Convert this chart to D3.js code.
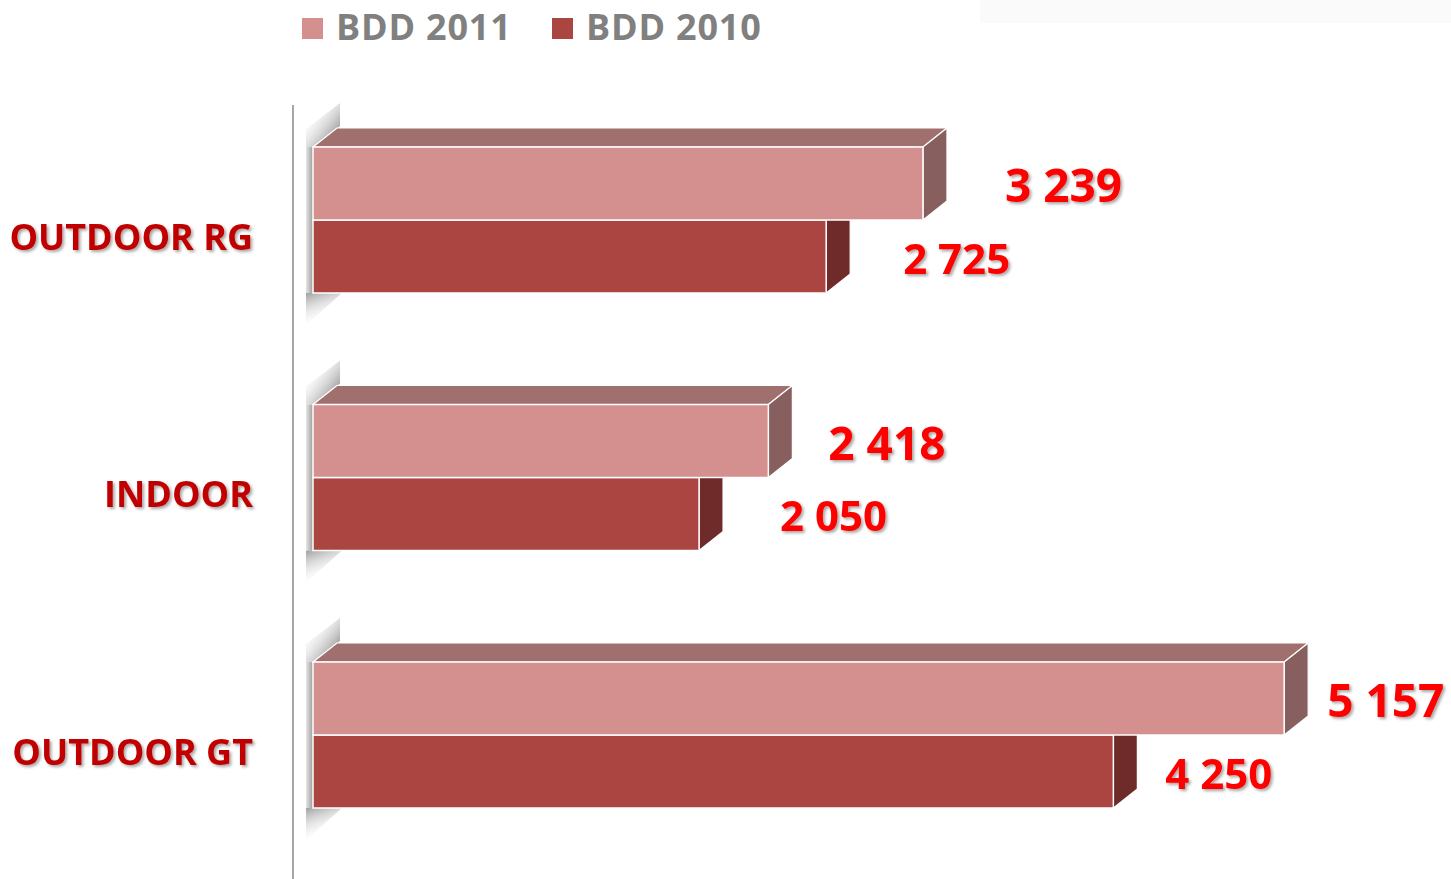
<!DOCTYPE html>
<html>
<head>
<meta charset="utf-8">
<script src="https://cdn.jsdelivr.net/npm/d3@7"></script>
<style>
  html, body { margin: 0; padding: 0; background: #fff; }
  svg { display: block; font-family: "Open Sans", "Liberation Sans", sans-serif; }
</style>
</head>
<body>
<div id="chart"></div>
<script>
const categories = ["OUTDOOR RG", "INDOOR", "OUTDOOR GT"];
const seriesNames = ["BDD 2011", "BDD 2010"];
const bdd2011 = [3239, 2418, 5157];
const bdd2010 = [2725, 2050, 4250];

const WIDTH = 1451;
const HEIGHT = 879;
const DEPTH_X = 24;
const DEPTH_Y = -19;
const AXIS_X = 293;
// hand placed gaps between bar end and its value label, as in the original slide
const labelGap = {
  "BDD 2011": [58, 36, 19],
  "BDD 2010": [53, 57, 28]
};
const labelSize = { "BDD 2011": 46, "BDD 2010": 42 };

const colors = {
  "BDD 2011": { front: "#D4908F", top: "#A0706F", side: "#875F5E" },
  "BDD 2010": { front: "#AA4542", top: "#8A3B38", side: "#6E2B2A" }
};

const valuesBySeries = { "BDD 2011": bdd2011, "BDD 2010": bdd2010 };

const fmt = d3.formatLocale({ decimal: ",", thousands: " ", grouping: [3], currency: ["", ""] }).format(",d");

const svg = d3.select("#chart").append("svg")
  .attr("width", WIDTH)
  .attr("height", HEIGHT);

const defs = svg.append("defs");
const shadow = defs.append("filter").attr("id", "txtShadow")
  .attr("x", "-10%").attr("y", "-20%").attr("width", "130%").attr("height", "150%");
shadow.append("feDropShadow")
  .attr("dx", 2).attr("dy", 2).attr("stdDeviation", 1.5)
  .attr("flood-color", "#000").attr("flood-opacity", 0.35);

const addGradient = (id, x1, y1, x2, y2, from, to) => {
  const gr = defs.append("linearGradient").attr("id", id)
    .attr("x1", x1).attr("y1", y1).attr("x2", x2).attr("y2", y2);
  gr.append("stop").attr("offset", "0%").attr("stop-color", from[0]).attr("stop-opacity", from[1]);
  gr.append("stop").attr("offset", "100%").attr("stop-color", to[0]).attr("stop-opacity", to[1]);
};
addGradient("wallTop", 1, 0.8, 0.2, 0, ["#808080", 1], ["#ffffff", 0]);
addGradient("wallLeft", 1, 0, 0, 0, ["#9c9c9c", 1], ["#e6e6e6", 1]);
addGradient("wallBottom", 0, 0, 0.4, 1, ["#a0a0a0", 1], ["#ffffff", 0]);

const x = d3.scaleLinear().domain([0, 6000]).range([313, 313 + 6000 * 0.18832]);
const yGroup = d3.scalePoint().domain(categories).range([220, 735]);
const ySeries = d3.scaleBand().domain(seriesNames).range([-73, 73]);

// faint box at top right (remains of a hidden title)
svg.append("rect")
  .attr("x", 980).attr("y", 0).attr("width", WIDTH - 980).attr("height", 23)
  .attr("fill", "#FAFAFA");

// vertical axis line
svg.append("line")
  .attr("x1", AXIS_X).attr("x2", AXIS_X)
  .attr("y1", 105).attr("y2", HEIGHT)
  .attr("stroke", "#A6A6A6").attr("stroke-width", 2);

// legend
const legend = svg.append("g").attr("class", "legend");
const legendX = [302, 552];
seriesNames.forEach((s, i) => {
  legend.append("rect")
    .attr("x", legendX[i]).attr("y", 18)
    .attr("width", 21).attr("height", 21)
    .attr("fill", colors[s].front);
  legend.append("text")
    .attr("x", legendX[i] + 34).attr("y", 40)
    .attr("font-size", "36px").attr("font-weight", 700)
    .attr("letter-spacing", "0.8px")
    .attr("fill", "#808080")
    .text(s);
});

const groups = svg.append("g").attr("class", "groups")
  .selectAll("g")
  .data(categories)
  .join("g");

// wall shading next to each pair of bars
groups.each(function (cat) {
  const g = d3.select(this);
  const top = yGroup(cat) + ySeries.range()[0];
  const bottom = yGroup(cat) + ySeries.range()[1];
  g.append("path")
    .attr("d", `M306,${top} L313,${top} L340,${top - 21} L340,${top - 44} L306,${top - 18} Z`)
    .attr("fill", "url(#wallTop)");
  g.append("rect")
    .attr("x", 306).attr("y", top)
    .attr("width", 7).attr("height", bottom - top)
    .attr("fill", "url(#wallLeft)");
  g.append("path")
    .attr("d", `M306,${bottom} L342,${bottom} L306,${bottom + 32} Z`)
    .attr("fill", "url(#wallBottom)");
});

// bars, 2010 first so the 2011 bar covers its hidden top face
const barOrder = ["BDD 2010", "BDD 2011"];
groups.each(function (cat, ci) {
  const g = d3.select(this);
  barOrder.forEach((s) => {
    const v = valuesBySeries[s][ci];
    const x0 = x(0);
    const x1 = x(v);
    const y0 = yGroup(cat) + ySeries(s);
    const h = ySeries.bandwidth();
    const c = colors[s];
    const bar = g.append("g").attr("class", "bar");
    bar.append("path")
      .attr("d", `M${x0},${y0} L${x0 + DEPTH_X},${y0 + DEPTH_Y} L${x1 + DEPTH_X},${y0 + DEPTH_Y} L${x1},${y0} Z`)
      .attr("fill", c.top).attr("stroke", "#fff").attr("stroke-width", 1.2).attr("stroke-linejoin", "round");
    bar.append("path")
      .attr("d", `M${x1},${y0} L${x1 + DEPTH_X},${y0 + DEPTH_Y} L${x1 + DEPTH_X},${y0 + h + DEPTH_Y} L${x1},${y0 + h} Z`)
      .attr("fill", c.side).attr("stroke", "#fff").attr("stroke-width", 1.2).attr("stroke-linejoin", "round");
    bar.append("rect")
      .attr("x", x0).attr("y", y0)
      .attr("width", x1 - x0).attr("height", h)
      .attr("fill", c.front).attr("stroke", "#fff").attr("stroke-width", 1.5);
  });
});

// value labels
groups.each(function (cat, ci) {
  const g = d3.select(this);
  seriesNames.forEach((s) => {
    const v = valuesBySeries[s][ci];
    g.append("text")
      .attr("x", x(v) + DEPTH_X + labelGap[s][ci])
      .attr("y", yGroup(cat) + ySeries(s) + ySeries.bandwidth() / 2 + 2)
      .attr("dy", "0.36em")
      .attr("font-size", labelSize[s] + "px").attr("font-weight", 700)
      .attr("fill", "#FF0000")
      .attr("filter", "url(#txtShadow)")
      .text(fmt(v));
  });
});

// category labels
groups.append("text")
  .attr("x", 253)
  .attr("y", (d) => yGroup(d) + 17)
  .attr("dy", "0.36em")
  .attr("text-anchor", "end")
  .attr("font-size", "36px").attr("font-weight", 700)
  .attr("fill", "#C00000")
  .attr("filter", "url(#txtShadow)")
  .text((d) => d);
</script>
</body>
</html>
